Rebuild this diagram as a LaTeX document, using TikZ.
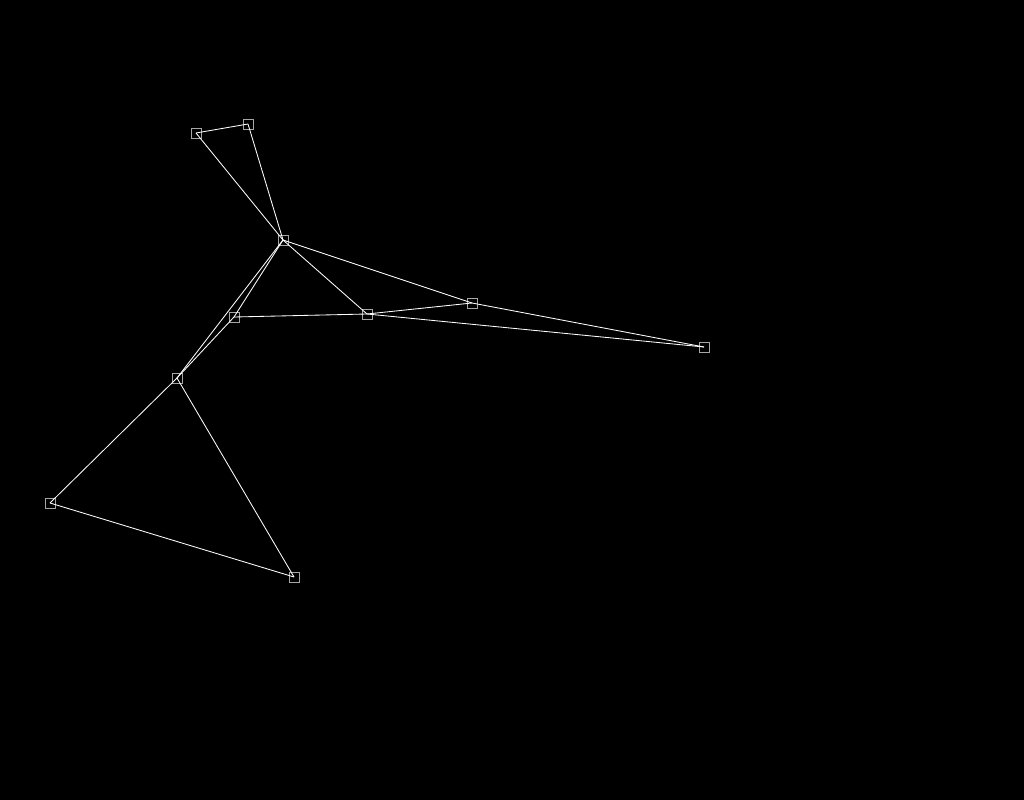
\documentclass[tikz,border=0pt]{standalone}
\usepackage{tikz}
\usetikzlibrary{arrows}

\begin{document}
\begin{tikzpicture}[x=0.025cm, y=-0.025cm, vertex/.style={draw=gray!70, line width=0.6pt, minimum size=0.25cm, inner sep=0pt}, link/.style={draw=white, line width=0.6pt}]
	% Background
	\fill [black] (0,0) rectangle (1024,800);
	\useasboundingbox (0,0) rectangle (1024,800);
	
	% Nodes {a, b, c, etc}
	\node [vertex] (a) at (196,133) {};
	\node [vertex] (b) at (248,124) {};
	\node [vertex] (c) at (283,240) {};
	\node [vertex] (d) at (234,317) {};
	\node [vertex] (e) at (367,314) {};
	\node [vertex] (f) at (472,303) {};
	\node [vertex] (g) at (704,347) {};
	\node [vertex] (h) at (177,378) {};
	\node [vertex] (i) at (50,503)  {};
	\node [vertex] (j) at (294,577) {};
	
	% Paths
	\path [link] (a.center) -- (b.center);
	\path [link] (a.center) -- (c.center);
	\path [link] (b.center) -- (c.center);
	\path [link] (c.center) -- (e.center);
	\path [link] (c.center) -- (f.center);
	\path [link] (c.center) -- (d.center);
	\path [link] (c.center) -- (h.center);
	\path [link] (d.center) -- (e.center);
	\path [link] (d.center) -- (h.center);
	\path [link] (e.center) -- (f.center);
	\path [link] (e.center) -- (g.center);
	\path [link] (f.center) -- (g.center);
	\path [link] (h.center) -- (i.center);
	\path [link] (h.center) -- (j.center);
	\path [link] (i.center) -- (j.center);
	
\end{tikzpicture}
\end{document}
